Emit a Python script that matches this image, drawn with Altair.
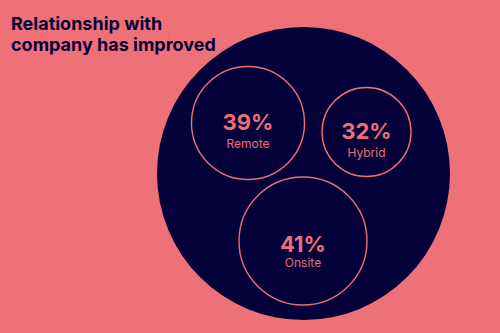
import altair as alt
import pandas as pd

# ---- data ----
categories = ["Remote", "Hybrid", "Onsite"]
values = [39, 32, 41]
value_labels = ["39%", "32%", "41%"]

# ---- layout (canvas pixel coordinates, used through linear scales) ----
bubble_cx = [248, 366.5, 303]
bubble_cy = [123, 132, 241]
pct_baseline = [130, 139, 252]
lbl_baseline = [148, 157, 267]

container_cx = [303.5]
container_cy = [173.5]

BG = "#EF7178"
NAVY = "#03003A"
SALMON = "#EC6F76"
TOP = 60

df = pd.DataFrame({
    "category": categories,
    "value": values,
    "label": value_labels,
    "cx": bubble_cx,
    "cy": bubble_cy,
    "ty": pct_baseline,
    "ly": lbl_baseline,
})
cont = pd.DataFrame({"cx": container_cx, "cy": container_cy})

xs = alt.Scale(domain=[0, 500], nice=False, zero=False)
ys = alt.Scale(domain=[333, TOP], nice=False, zero=False)

container = alt.Chart(cont).mark_circle(color=NAVY, opacity=1, size=293 ** 2).encode(
    x=alt.X("cx:Q", scale=xs, axis=None),
    y=alt.Y("cy:Q", scale=ys, axis=None),
)

bubbles = alt.Chart(df).mark_point(
    shape="circle", filled=False, stroke=SALMON, strokeWidth=1.4, opacity=1
).encode(
    x=alt.X("cx:Q", scale=xs, axis=None),
    y=alt.Y("cy:Q", scale=ys, axis=None),
    size=alt.Size("value:Q", scale=alt.Scale(domain=[32, 39, 41], range=[89 ** 2, 113 ** 2, 128 ** 2]), legend=None),
)

pct = alt.Chart(df).mark_text(
    font="Inter", fontWeight="bold", fontSize=22, color=SALMON, baseline="alphabetic", align="center"
).encode(
    x=alt.X("cx:Q", scale=xs, axis=None),
    y=alt.Y("ty:Q", scale=ys, axis=None),
    text="label:N",
)

lbl = alt.Chart(df).mark_text(
    font="Inter", fontSize=12, color=SALMON, baseline="alphabetic", align="center"
).encode(
    x=alt.X("cx:Q", scale=xs, axis=None),
    y=alt.Y("ly:Q", scale=ys, axis=None),
    text="category:N",
)

chart = alt.layer(container, bubbles, pct, lbl).properties(
    width=500,
    height=333 - TOP,
    background=BG,
    padding={"top": TOP, "left": 0, "right": 0, "bottom": 0},
    autosize=alt.AutoSizeParams(type="none"),
    title=alt.TitleParams(
        text=["Relationship with", "company has improved"],
        anchor="start",
        frame="group",
        orient="top",
        font="Inter",
        fontSize=18,
        fontWeight="bold",
        color=NAVY,
        lineHeight=21,
        dx=11,
        offset=-28,
    ),
).configure_view(stroke=None)

chart.save("out.html", embed_options={"renderer": "svg", "actions": False})
